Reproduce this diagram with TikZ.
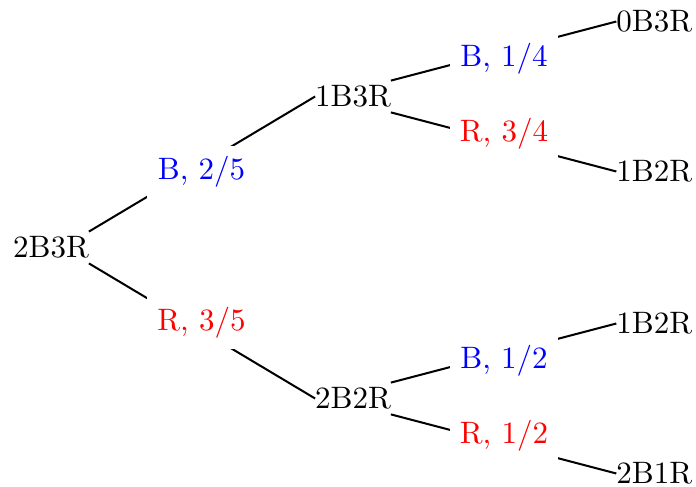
\documentclass[tikz,border=0pt]{standalone}
\usetikzlibrary{backgrounds}
\begin{document}
\begin{tikzpicture}[x=0.32258pt,y=-0.32258pt,
  state/.style={inner xsep=0pt,inner ysep=1.6pt,outer sep=0pt},
  lab/.style={fill=white,inner sep=3.33pt,outer sep=0pt},
  bl/.style={lab,text=blue},
  rd/.style={lab,text=red},
  conn/.style={line width=0.65pt}]
\useasboundingbox (0,0) rectangle (696,487);
% states
\node[state] (r)  at (51,247.5)   {2B3R};
\node[state] (n1) at (353,96.5)   {1B3R};
\node[state] (n2) at (353,398.5)  {2B2R};
\node[state] (a)  at (654.2,21.5)  {0B3R};
\node[state] (b)  at (654.2,171.5) {1B2R};
\node[state] (c)  at (654.2,323.5) {1B2R};
\node[state] (d)  at (654.2,473.5) {2B1R};
% branch labels
\node[bl] (l1) at (201.5,172) {B, 2/5};
\node[rd] (l2) at (201.5,323) {R, 3/5};
\node[bl] (l3) at (504,59)    {B, 1/4};
\node[rd] (l4) at (504,134)   {R, 3/4};
\node[bl] (l5) at (504,361)   {B, 1/2};
\node[rd] (l6) at (504,436)   {R, 1/2};
% connectors (behind the labels)
\begin{pgfonlayer}{background}
\draw[conn] (r.north east)  -- (n1.west);
\draw[conn] (r.south east)  -- (n2.west);
\draw[conn] (n1.north east) -- (a.west);
\draw[conn] (n1.south east) -- (b.west);
\draw[conn] (n2.north east) -- (c.west);
\draw[conn] (n2.south east) -- (d.west);
\end{pgfonlayer}
\end{tikzpicture}
\end{document}
